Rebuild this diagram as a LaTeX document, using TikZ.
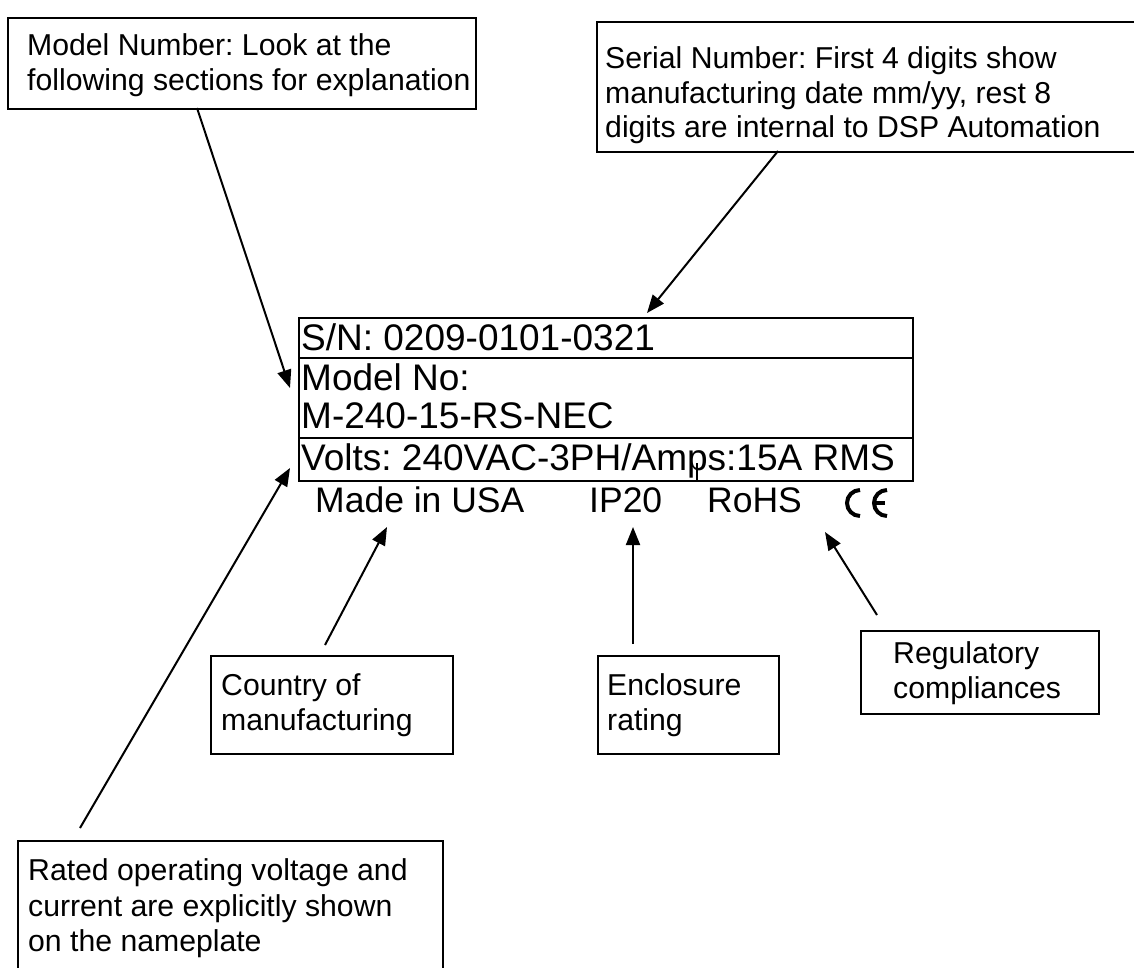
\documentclass[tikz,border=0pt]{standalone}
\usepackage{fontspec}
\setmainfont{Liberation Sans}
\usetikzlibrary{arrows.meta}
\newcommand\annfont{\fontsize{30.2}{35}\selectfont}
\newcommand\platefont{\fontsize{37}{40}\selectfont}
\newcommand\rowfont{\fontsize{35.5}{40}\selectfont}
\frenchspacing
\begin{document}
\begin{tikzpicture}[x=1pt,y=-1pt,
  frame/.style={draw, line width=2pt, inner sep=0pt, anchor=north west},
  txt/.style={anchor=base west, inner sep=0pt, font=\annfont},
  ptxt/.style={anchor=base west, inner sep=0pt, font=\platefont},
  btxt/.style={anchor=base west, inner sep=0pt, font=\rowfont},
  conn/.style={line width=2pt, -{Triangle[length=18pt,width=14pt]}},
  cestroke/.style={line width=4pt}]
\useasboundingbox (0,0) rectangle (1134,967);
\clip (0,0) rectangle (1134,967);
\fill[white] (0,0) rectangle (1134,967);

% annotation boxes
\node[frame, minimum width=468pt, minimum height=91pt] (modelbox) at (7,17) {};
\node[txt] (modelt1) at (27,55) {Model Number: Look at the};
\node[txt] (modelt2) at (27,90) {following sections for explanation};

\node[frame, minimum width=560pt, minimum height=130pt] (serialbox) at (596,21) {};
\node[txt] (serialt1) at (605,68) {Serial Number: First 4 digits show};
\node[txt] (serialt2) at (605,103) {manufacturing date mm/yy, rest 8};
\node[txt] (serialt3) at (605,137) {digits are internal to DSP Automation};

\node[frame, minimum width=242pt, minimum height=98pt] (countrybox) at (210,655) {};
\node[txt] (countryt1) at (221,695) {Country of};
\node[txt] (countryt2) at (221,730) {manufacturing};

\node[frame, minimum width=181pt, minimum height=98pt] (enclbox) at (597,655) {};
\node[txt] (enclt1) at (607,695) {Enclosure};
\node[txt] (enclt2) at (607,730) {rating};

\node[frame, minimum width=238pt, minimum height=83pt] (regbox) at (860,630) {};
\node[txt] (regt1) at (893,663) {Regulatory};
\node[txt] (regt2) at (893,698) {compliances};

\node[frame, minimum width=425pt, minimum height=160pt] (ratedbox) at (17,840) {};
\node[txt] (ratedt1) at (28,880) {Rated operating voltage and};
\node[txt] (ratedt2) at (28,916) {current are explicitly shown};
\node[txt] (ratedt3) at (28,951) {on the nameplate};

% nameplate
\node[frame, minimum width=614pt, minimum height=40pt] (snrow) at (298,317) {};
\node[frame, minimum width=614pt, minimum height=80pt] (modelrow) at (298,357) {};
\node[frame, minimum width=614pt, minimum height=43pt] (voltsrow) at (298,437) {};
\node[ptxt] (sn) at (301,350) {S/N: 0209-0101-0321};
\node[ptxt] (mno) at (301,390) {Model No:};
\node[ptxt] (mnum) at (301,428) {M-240-15-RS-NEC};
\node[ptxt] (volts) at (301,470) {Volts: 240VAC-3PH/Amps:15A RMS};
\draw[line width=2pt] (697,463) -- (697,480);

\node[btxt] (usa) at (315,512) {Made in USA};
\node[btxt] (ip) at (589,512) {IP20};
\node[btxt] (rohs) at (707,512) {RoHS};
% CE mark
\draw[cestroke] (860,490) arc[start angle=-90, end angle=-270, radius=13];
\draw[cestroke] (887,490) arc[start angle=-90, end angle=-270, radius=13];
\draw[line width=3.5pt] (876,503) -- (885,503);

% connector end points
\coordinate (a1s) at (197,108);  \coordinate (a1e) at (290,388);
\coordinate (a2s) at (778,151);  \coordinate (a2e) at (647,313);
\coordinate (a3s) at (80,828);   \coordinate (a3e) at (290,468);
\coordinate (a4s) at (325,645);  \coordinate (a4e) at (387,527);
\coordinate (a5s) at (633,644);  \coordinate (a5e) at (633,527);
\coordinate (a6s) at (877,615);  \coordinate (a6e) at (825,532);

\draw[conn] (a1s) -- (a1e);
\draw[conn] (a2s) -- (a2e);
\draw[conn] (a3s) -- (a3e);
\draw[conn] (a4s) -- (a4e);
\draw[conn] (a5s) -- (a5e);
\draw[conn] (a6s) -- (a6e);
\end{tikzpicture}
\end{document}
